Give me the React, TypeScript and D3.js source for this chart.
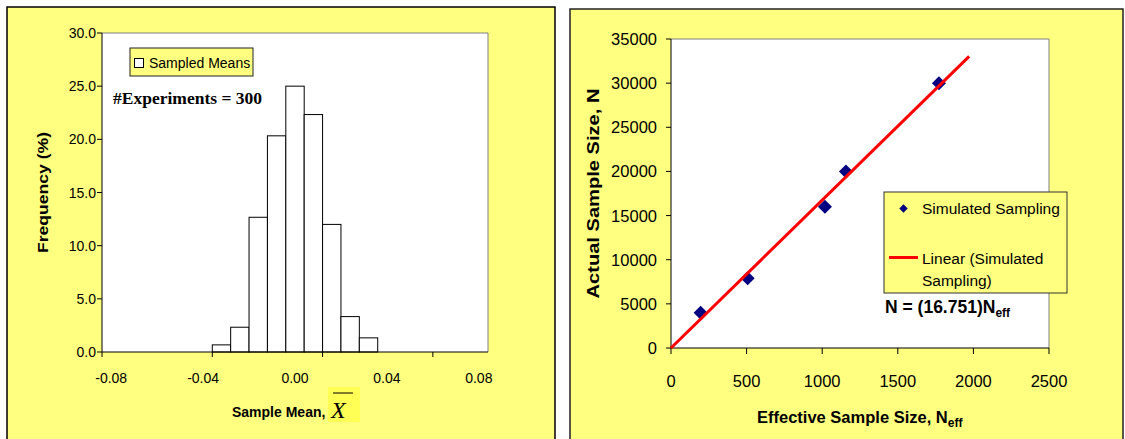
import React from 'react';
import * as d3 from 'd3';

// histogram of sampled means (300 experiments)
const binCenters = [
  -0.08, -0.072, -0.064, -0.056, -0.048, -0.04, -0.032, -0.024, -0.016, -0.008, 0,
  0.008, 0.016, 0.024, 0.032, 0.04, 0.048, 0.056, 0.064, 0.072, 0.08,
];
const frequency = [
  0, 0, 0, 0, 0, 0, 0.67, 2.33, 12.67, 20.33, 25.0,
  22.33, 12.0, 3.33, 1.33, 0, 0, 0, 0, 0, 0,
];
const freqTicks = [0, 5, 10, 15, 20, 25, 30];
const labelEvery = 5;
const tickEvery = 6;

// simulated sampling: effective vs actual sample size
const nEff = [196, 507, 1018, 1157, 1772];
const nActual = [4000, 7900, 16000, 20000, 30000];
const nEffTicks = [0, 500, 1000, 1500, 2000, 2500];
const nActualTicks = [0, 5000, 10000, 15000, 20000, 25000, 30000, 35000];
const slope = 16.751;
const trendForward = 200;

const PANEL = '#ffff80';
const SANS = '"Liberation Sans", Arial, sans-serif';
const SERIF = '"Liberation Serif", "Times New Roman", serif';

function Histogram() {
  const left = 102, right = 488, top = 33, bottom = 352;
  const x = d3.scaleBand<number>().domain(d3.range(binCenters.length)).range([left, right]).padding(0);
  const y = d3.scaleLinear().domain([0, 30]).range([bottom, top]);
  const bw = x.bandwidth();
  const tickIdx = d3.range(0, binCenters.length, tickEvery);

  return (
    <g>
      <rect x={7} y={7} width={548} height={440} fill={PANEL} stroke="#000" strokeWidth={1.5} />
      <rect x={left} y={top} width={right - left} height={bottom - top} fill="#fff" />
      <line x1={left} x2={right} y1={top} y2={top} stroke="#808080" />
      <line x1={right} x2={right} y1={top} y2={bottom} stroke="#808080" />

      {frequency.map((f, i) =>
        f > 0 ? (
          <rect key={i} x={x(i)!} y={y(f)} width={bw} height={bottom - y(f)}
            fill="#fff" stroke="#000" strokeWidth={1} />
        ) : null
      )}

      <line x1={left} x2={left} y1={top} y2={bottom} stroke="#000" />
      <line x1={left} x2={right} y1={bottom} y2={bottom} stroke="#000" />

      {freqTicks.map(t => (
        <g key={t}>
          <line x1={left - 5} x2={left} y1={y(t)} y2={y(t)} stroke="#000" />
          <text x={96} y={y(t)} dy="0.36em" textAnchor="end" fontFamily={SANS} fontSize={14}>
            {t.toFixed(1)}
          </text>
        </g>
      ))}

      {tickIdx.map(i => (
        <line key={i} x1={x(i)!} x2={x(i)!} y1={bottom} y2={bottom + 5} stroke="#000" />
      ))}
      {binCenters.map((c, i) =>
        i % labelEvery === 0 ? (
          <text key={i} x={x(i)! + bw / 2} y={383} textAnchor="middle" fontFamily={SANS} fontSize={14}>
            {c.toFixed(2)}
          </text>
        ) : null
      )}

      <text transform={`translate(48,${(top + bottom) / 2}) rotate(-90)`} textAnchor="middle"
        fontFamily={SANS} fontWeight="bold" fontSize={14} textLength={121} lengthAdjust="spacingAndGlyphs">
        Frequency (%)
      </text>

      <text x={232} y={417} fontFamily={SANS} fontWeight="bold" fontSize={14}>Sample Mean,</text>
      <rect x={328} y={387} width={32} height={35} fill="#ffff55" />
      <line x1={333} x2={353} y1={393} y2={393} stroke="#000" strokeWidth={1} />
      <text x={331} y={418} fontFamily={SERIF} fontStyle="italic" fontSize={24}>X</text>

      <rect x={130} y={48} width={123} height={28} fill={PANEL} stroke="#222" strokeWidth={1} />
      <rect x={134.5} y={58.5} width={9} height={9} fill="#fff" stroke="#000" strokeWidth={1} />
      <text x={149} y={68} fontFamily={SANS} fontSize={14}>Sampled Means</text>

      <text x={113} y={104} fontFamily={SERIF} fontWeight="bold" fontSize={17}
        textLength={149} lengthAdjust="spacingAndGlyphs">#Experiments = 300</text>
    </g>
  );
}

function Scatter() {
  const left = 671, right = 1049, top = 39, bottom = 348;
  const x = d3.scaleLinear().domain([0, 2500]).range([left, right]);
  const y = d3.scaleLinear().domain([0, 35000]).range([bottom, top]);
  const trendEnd = (d3.max(nEff) as number) + trendForward;
  const trend = d3.line<number>().x(d => x(d)).y(d => y(slope * d))([0, trendEnd]) || '';
  const diamond = d3.symbol().type(d3.symbolSquare).size(98)() || '';
  const smallDiamond = d3.symbol().type(d3.symbolSquare).size(35)() || '';

  return (
    <g>
      <rect x={570} y={9} width={553} height={440} fill={PANEL} stroke="#222" strokeWidth={1.5} />
      <rect x={left} y={top} width={right - left} height={bottom - top} fill="#fff" />
      <line x1={left} x2={right} y1={top} y2={top} stroke="#808080" />
      <line x1={right} x2={right} y1={top} y2={bottom} stroke="#808080" />

      <line x1={left} x2={left} y1={top} y2={bottom} stroke="#000" />
      <line x1={left} x2={right} y1={bottom} y2={bottom} stroke="#000" />

      {nActualTicks.map(t => (
        <g key={t}>
          <line x1={left - 5} x2={left} y1={y(t)} y2={y(t)} stroke="#000" />
          <text x={657} y={y(t)} dy="0.36em" textAnchor="end" fontFamily={SANS} fontSize={16.5}>{t}</text>
        </g>
      ))}
      {nEffTicks.map(t => (
        <g key={t}>
          <line x1={x(t)} x2={x(t)} y1={bottom} y2={bottom + 6} stroke="#000" />
          <text x={x(t)} y={387} textAnchor="middle" fontFamily={SANS} fontSize={16.5}>{t}</text>
        </g>
      ))}

      {nEff.map((v, i) => (
        <path key={i} d={diamond} transform={`translate(${x(v)},${y(nActual[i])}) rotate(45)`} fill="#000080" />
      ))}
      <path d={trend} stroke="#ff0000" strokeWidth={3} fill="none" />

      <text transform={`translate(599,${(top + bottom) / 2}) rotate(-90)`} textAnchor="middle"
        fontFamily={SANS} fontWeight="bold" fontSize={17} textLength={210} lengthAdjust="spacingAndGlyphs">
        Actual Sample Size, N
      </text>
      <text x={757} y={423} fontFamily={SANS} fontWeight="bold" fontSize={16.5}>
        Effective Sample Size, N<tspan fontSize={12} dy={4}>eff</tspan>
      </text>

      <rect x={884} y={192} width={183} height={101} fill={PANEL} stroke="#333" strokeWidth={1} />
      <path d={smallDiamond} transform="translate(903.5,208.5) rotate(45)" fill="#000080" />
      <text x={922} y={213.5} fontFamily={SANS} fontSize={15.5}>Simulated Sampling</text>
      <line x1={889} x2={918} y1={257.5} y2={257.5} stroke="#ff0000" strokeWidth={3} />
      <text x={922} y={263.5} fontFamily={SANS} fontSize={15.5}>Linear (Simulated</text>
      <text x={922} y={286} fontFamily={SANS} fontSize={15.5}>Sampling)</text>

      <text x={885} y={313} fontFamily={SANS} fontWeight="bold" fontSize={17.5}>
        N = (16.751)N<tspan fontSize={12} dy={4}>eff</tspan>
      </text>
    </g>
  );
}

export default function App() {
  return (
    <svg width={1125} height={439} style={{ position: 'absolute', left: 0, top: 0, background: '#fff' }}>
      <Histogram />
      <Scatter />
    </svg>
  );
}
